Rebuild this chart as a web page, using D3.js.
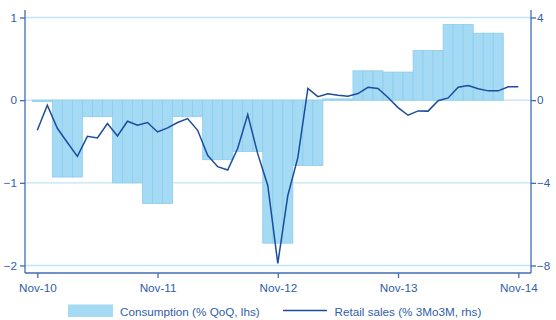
<!DOCTYPE html>
<html>
<head>
<meta charset="utf-8">
<script src="https://cdn.jsdelivr.net/npm/d3@7/dist/d3.min.js"></script>
<style>
  html, body { margin: 0; padding: 0; background: #ffffff; }
  svg { display: block; }
  text { font-family: "Liberation Sans", Arial, sans-serif; }
</style>
</head>
<body>
<svg id="chart" width="556" height="320"></svg>
<script>
// Monthly series, Nov-10 .. Nov-14 (index 0 = Nov-10)
const months = [
  "Nov-10","Dec-10","Jan-11","Feb-11","Mar-11","Apr-11","May-11","Jun-11","Jul-11","Aug-11","Sep-11","Oct-11",
  "Nov-11","Dec-11","Jan-12","Feb-12","Mar-12","Apr-12","May-12","Jun-12","Jul-12","Aug-12","Sep-12","Oct-12",
  "Nov-12","Dec-12","Jan-13","Feb-13","Mar-13","Apr-13","May-13","Jun-13","Jul-13","Aug-13","Sep-13","Oct-13",
  "Nov-13","Dec-13","Jan-14","Feb-14","Mar-14","Apr-14","May-14","Jun-14","Jul-14","Aug-14","Sep-14","Oct-14",
  "Nov-14"
];

// Consumption, % QoQ (lhs) - quarterly value shown for each month of the quarter
const consumption = [
  -0.015, -0.015,
  -0.93, -0.93, -0.93,
  -0.20, -0.20, -0.20,
  -1.00, -1.00, -1.00,
  -1.25, -1.25, -1.25,
  -0.20, -0.20, -0.20,
  -0.72, -0.72, -0.72,
  -0.62, -0.62, -0.62,
  -1.73, -1.73, -1.73,
  -0.79, -0.79, -0.79,
  0.015, 0.015, 0.015,
  0.355, 0.355, 0.355,
  0.34, 0.34, 0.34,
  0.60, 0.60, 0.60,
  0.915, 0.915, 0.915,
  0.81, 0.81, 0.81
];

// Retail sales, % 3Mo3M (rhs)
const retail = [
  -1.46, -0.24, -1.36, -2.05, -2.72, -1.75, -1.83, -1.13, -1.73, -1.02, -1.21, -1.08,
  -1.54, -1.34, -1.08, -0.89, -1.46, -2.67, -3.22, -3.38, -2.33, -0.70, -2.60, -4.13,
  -7.90, -4.61, -2.78, 0.57, 0.17, 0.31, 0.24, 0.19, 0.32, 0.62, 0.57, 0.13,
  -0.36, -0.73, -0.52, -0.53, -0.03, 0.11, 0.63, 0.71, 0.55, 0.45, 0.45, 0.65,
  0.65
];

const xTickIdx = [0, 12, 24, 36, 48];
const xTickLabels = ["Nov-10", "Nov-11", "Nov-12", "Nov-13", "Nov-14"];
const leftTicks = [-2, -1, 0, 1];
const rightTicks = [-8, -4, 0, 4];
const legendLabels = ["Consumption (% QoQ, lhs)", "Retail sales (% 3Mo3M, rhs)"];

// Colours
const barFill = "#a4daf4";
const barStroke = "#8ccdee";
const gridColor = "#bfe4f6";
const axisColor = "#3f6db5";
const lineColor = "#1a4d9c";
const textColor = "#2f5ea9";

// Plot frame
const frameL = 25, frameR = 531, frameT = 10, frameB = 273;

const svg = d3.select("#chart");

const x = d3.scaleLinear().domain([0, 48]).range([37.3, 518.3]);
const yL = d3.scaleLinear().domain([-2, 1]).range([265.5, 17.5]);
const yR = d3.scaleLinear().domain([-8, 4]).range([265.5, 17.5]);
const step = x(1) - x(0);

// Horizontal gridlines
svg.append("g").selectAll("line").data(leftTicks).join("line")
  .attr("x1", frameL).attr("x2", frameR)
  .attr("y1", d => yL(d)).attr("y2", d => yL(d))
  .attr("stroke", gridColor).attr("stroke-width", 1.3);

// Consumption bars, one per month
svg.append("g").selectAll("rect").data(consumption).join("rect")
  .attr("x", (d, i) => x(i) - step / 2)
  .attr("width", step)
  .attr("y", d => Math.min(yL(d), yL(0)))
  .attr("height", d => Math.max(1, Math.abs(yL(d) - yL(0))))
  .attr("fill", barFill)
  .attr("stroke", barStroke)
  .attr("stroke-width", 0.8);

// Retail sales line
const line = d3.line().x((d, i) => x(i)).y(d => yR(d));
svg.append("path").datum(retail)
  .attr("d", line)
  .attr("fill", "none")
  .attr("stroke", lineColor)
  .attr("stroke-width", 1.5)
  .attr("stroke-linejoin", "miter");

// Axes
function styleAxis(g) {
  g.select(".domain").remove();
  g.selectAll(".tick line").attr("stroke", axisColor).attr("stroke-width", 1.3);
  g.selectAll(".tick text")
    .attr("fill", textColor)
    .style("font-size", "11.7px")
    .style("font-family", "'Liberation Sans', Arial, sans-serif");
}

svg.append("g")
  .attr("transform", `translate(0,${frameB})`)
  .call(d3.axisBottom(x).tickValues(xTickIdx).tickFormat((d, i) => xTickLabels[i]).tickSize(5).tickPadding(6))
  .call(styleAxis);

svg.append("g")
  .attr("transform", `translate(${frameL},0)`)
  .call(d3.axisLeft(yL).tickValues(leftTicks).tickFormat(d3.format("d")).tickSize(5).tickPadding(3))
  .call(styleAxis);

svg.append("g")
  .attr("transform", `translate(${frameR},0)`)
  .call(d3.axisRight(yR).tickValues(rightTicks).tickFormat(d3.format("d")).tickSize(5).tickPadding(1))
  .call(styleAxis);

// Frame lines
const frame = svg.append("g").attr("stroke", axisColor).attr("stroke-width", 1.3);
frame.append("line").attr("x1", frameL).attr("x2", frameL).attr("y1", frameT).attr("y2", frameB);
frame.append("line").attr("x1", frameR).attr("x2", frameR).attr("y1", frameT).attr("y2", frameB);
frame.append("line").attr("x1", frameL).attr("x2", frameR).attr("y1", frameB).attr("y2", frameB);

// Legend
const legend = svg.append("g");
legend.append("rect")
  .attr("x", 68).attr("y", 304.5).attr("width", 45).attr("height", 12.5)
  .attr("fill", barFill);
legend.append("text")
  .attr("x", 120).attr("y", 315.5)
  .attr("fill", textColor).style("font-size", "11.7px")
  .text(legendLabels[0]);
legend.append("line")
  .attr("x1", 283).attr("x2", 327).attr("y1", 310.5).attr("y2", 310.5)
  .attr("stroke", lineColor).attr("stroke-width", 1.5);
legend.append("text")
  .attr("x", 334.5).attr("y", 315.5)
  .attr("fill", textColor).style("font-size", "11.7px")
  .text(legendLabels[1]);
</script>
</body>
</html>
